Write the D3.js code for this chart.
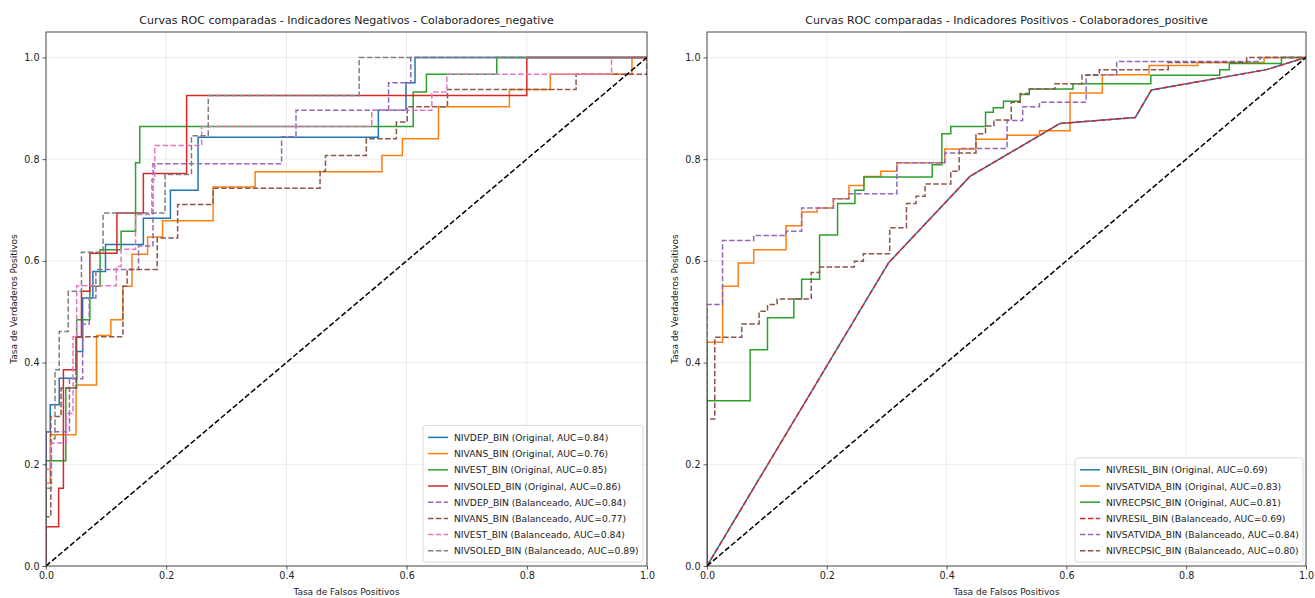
<!DOCTYPE html>
<html>
<head>
<meta charset="utf-8">
<script src="https://cdn.jsdelivr.net/npm/d3@7"></script>
<style>
  body { margin: 0; background: #fff; }
  svg { font-family: "DejaVu Sans", sans-serif; }
</style>
</head>
<body>
<svg id="chart" width="1315" height="598"></svg>
<script>
// ---- ROC points [fpr, tpr] per model ----
// Indicadores negativos
const nivdepOrig = [[0,0],[0,0.264],[0.007,0.264],[0.007,0.317],[0.022,0.317],[0.022,0.369],[0.051,0.369],[0.051,0.422],[0.061,0.422],[0.061,0.527],[0.078,0.527],[0.078,0.579],[0.099,0.579],[0.099,0.632],[0.162,0.632],[0.162,0.684],[0.207,0.684],[0.207,0.739],[0.253,0.739],[0.253,0.843],[0.553,0.843],[0.553,0.896],[0.599,0.896],[0.599,0.95],[0.614,0.95],[0.614,1],[1,1]];
const nivansOrig = [[0,0],[0,0.163],[0.007,0.163],[0.007,0.258],[0.05,0.258],[0.05,0.356],[0.084,0.356],[0.084,0.453],[0.108,0.453],[0.108,0.484],[0.128,0.484],[0.128,0.55],[0.143,0.55],[0.143,0.613],[0.169,0.613],[0.169,0.647],[0.194,0.647],[0.194,0.679],[0.278,0.679],[0.278,0.745],[0.348,0.745],[0.348,0.775],[0.559,0.775],[0.559,0.807],[0.593,0.807],[0.593,0.84],[0.653,0.84],[0.653,0.903],[0.771,0.903],[0.771,0.937],[0.839,0.937],[0.839,0.967],[0.975,0.967],[0.975,1],[1,1]];
const nivestOrig = [[0,0],[0,0.207],[0.033,0.207],[0.033,0.35],[0.051,0.35],[0.051,0.484],[0.073,0.484],[0.073,0.55],[0.09,0.55],[0.09,0.622],[0.125,0.622],[0.125,0.658],[0.149,0.658],[0.149,0.793],[0.156,0.793],[0.156,0.864],[0.611,0.864],[0.611,0.932],[0.633,0.932],[0.633,0.967],[0.75,0.967],[0.75,1],[1,1]];
const nivsoledOrig = [[0,0],[0,0.077],[0.021,0.077],[0.021,0.153],[0.029,0.153],[0.029,0.386],[0.05,0.386],[0.05,0.45],[0.059,0.45],[0.059,0.54],[0.073,0.54],[0.073,0.615],[0.118,0.615],[0.118,0.694],[0.162,0.694],[0.162,0.772],[0.234,0.772],[0.234,0.925],[0.80,0.925],[0.80,1],[1,1]];
const nivdepBal = [[0,0],[0,0.264],[0.039,0.264],[0.039,0.368],[0.061,0.368],[0.061,0.476],[0.072,0.476],[0.072,0.527],[0.083,0.527],[0.083,0.583],[0.154,0.583],[0.154,0.629],[0.178,0.629],[0.178,0.791],[0.392,0.791],[0.392,0.844],[0.416,0.844],[0.416,0.896],[0.57,0.896],[0.57,0.95],[0.607,0.95],[0.607,1],[1,1]];
const nivansBal = [[0,0],[0,0.097],[0.008,0.097],[0.008,0.294],[0.025,0.294],[0.025,0.35],[0.05,0.35],[0.05,0.451],[0.128,0.451],[0.128,0.55],[0.135,0.55],[0.135,0.583],[0.185,0.583],[0.185,0.645],[0.219,0.645],[0.219,0.711],[0.278,0.711],[0.278,0.743],[0.456,0.743],[0.456,0.776],[0.465,0.776],[0.465,0.807],[0.533,0.807],[0.533,0.84],[0.583,0.84],[0.583,0.873],[0.601,0.873],[0.601,0.903],[0.668,0.903],[0.668,0.937],[0.882,0.937],[0.882,0.967],[1,0.967],[1,1]];
const nivestBal = [[0,0],[0,0.19],[0.008,0.19],[0.008,0.242],[0.034,0.242],[0.034,0.3],[0.045,0.3],[0.045,0.451],[0.051,0.451],[0.051,0.551],[0.117,0.551],[0.117,0.589],[0.125,0.589],[0.125,0.623],[0.149,0.623],[0.149,0.691],[0.176,0.691],[0.176,0.76],[0.181,0.76],[0.181,0.827],[0.259,0.827],[0.259,0.864],[0.542,0.864],[0.542,0.896],[0.642,0.896],[0.642,0.932],[0.667,0.932],[0.667,0.967],[0.941,0.967],[0.941,1],[1,1]];
const nivsoledBal = [[0,0],[0,0.153],[0.009,0.153],[0.009,0.25],[0.015,0.25],[0.015,0.386],[0.022,0.386],[0.022,0.461],[0.037,0.461],[0.037,0.54],[0.059,0.54],[0.059,0.617],[0.095,0.617],[0.095,0.694],[0.198,0.694],[0.198,0.77],[0.242,0.77],[0.242,0.846],[0.27,0.846],[0.27,0.925],[0.521,0.925],[0.521,1],[1,1]];

// Indicadores positivos
const nivresilOrig = [[0,0],[0.303,0.596],[0.439,0.766],[0.589,0.870],[0.715,0.882],[0.742,0.936],[0.934,0.976],[1,1]];
const nivsatvidaOrig = [[0,0],[0,0.44],[0.026,0.44],[0.026,0.55],[0.052,0.55],[0.052,0.596],[0.078,0.596],[0.078,0.622],[0.132,0.622],[0.132,0.669],[0.158,0.669],[0.158,0.696],[0.184,0.696],[0.184,0.704],[0.211,0.704],[0.211,0.722],[0.237,0.722],[0.237,0.748],[0.262,0.748],[0.262,0.766],[0.29,0.766],[0.29,0.776],[0.317,0.776],[0.317,0.793],[0.397,0.793],[0.397,0.82],[0.449,0.82],[0.449,0.839],[0.501,0.839],[0.501,0.847],[0.555,0.847],[0.555,0.856],[0.606,0.856],[0.606,0.93],[0.66,0.93],[0.66,0.966],[0.738,0.966],[0.738,0.984],[0.819,0.984],[0.819,0.99],[0.93,0.99],[0.93,1],[1,1]];
const nivrecpsicOrig = [[0,0],[0,0.325],[0.072,0.325],[0.072,0.425],[0.101,0.425],[0.101,0.488],[0.145,0.488],[0.145,0.525],[0.158,0.525],[0.158,0.564],[0.188,0.564],[0.188,0.651],[0.218,0.651],[0.218,0.713],[0.247,0.713],[0.247,0.739],[0.262,0.739],[0.262,0.765],[0.376,0.765],[0.376,0.789],[0.392,0.789],[0.392,0.85],[0.407,0.85],[0.407,0.864],[0.465,0.864],[0.465,0.892],[0.478,0.892],[0.478,0.901],[0.495,0.901],[0.495,0.914],[0.523,0.914],[0.523,0.927],[0.538,0.927],[0.538,0.938],[0.611,0.938],[0.611,0.948],[0.741,0.948],[0.741,0.965],[0.856,0.965],[0.856,0.976],[0.872,0.976],[0.872,0.988],[0.959,0.988],[0.959,1],[1,1]];
const nivresilBal = [[0,0],[0.303,0.596],[0.439,0.766],[0.589,0.870],[0.715,0.882],[0.742,0.936],[0.934,0.976],[1,1]];
const nivsatvidaBal = [[0,0],[0,0.514],[0.026,0.514],[0.026,0.64],[0.078,0.64],[0.078,0.65],[0.132,0.65],[0.132,0.658],[0.158,0.658],[0.158,0.704],[0.211,0.704],[0.211,0.722],[0.237,0.722],[0.237,0.732],[0.317,0.732],[0.317,0.793],[0.397,0.793],[0.397,0.812],[0.421,0.812],[0.421,0.821],[0.501,0.821],[0.501,0.876],[0.527,0.876],[0.527,0.903],[0.555,0.903],[0.555,0.912],[0.633,0.912],[0.633,0.966],[0.684,0.966],[0.684,0.992],[0.923,0.992],[0.923,1],[1,1]];
const nivrecpsicBal = [[0,0],[0,0.289],[0.013,0.289],[0.013,0.45],[0.058,0.45],[0.058,0.476],[0.087,0.476],[0.087,0.501],[0.101,0.501],[0.101,0.514],[0.117,0.514],[0.117,0.525],[0.174,0.525],[0.174,0.577],[0.188,0.577],[0.188,0.588],[0.246,0.588],[0.246,0.599],[0.261,0.599],[0.261,0.614],[0.305,0.614],[0.305,0.665],[0.333,0.665],[0.333,0.713],[0.349,0.713],[0.349,0.727],[0.364,0.727],[0.364,0.751],[0.407,0.751],[0.407,0.776],[0.421,0.776],[0.421,0.812],[0.449,0.812],[0.449,0.85],[0.465,0.85],[0.465,0.865],[0.479,0.865],[0.479,0.877],[0.508,0.877],[0.508,0.912],[0.523,0.912],[0.523,0.929],[0.538,0.929],[0.538,0.938],[0.581,0.938],[0.581,0.948],[0.626,0.948],[0.626,0.965],[0.655,0.965],[0.655,0.976],[0.77,0.976],[0.77,0.99],[0.901,0.99],[0.901,1],[1,1]];

const negNames = ["NIVDEP_BIN", "NIVANS_BIN", "NIVEST_BIN", "NIVSOLED_BIN"];
const negAucOrig = [0.84, 0.76, 0.85, 0.86];
const negAucBal = [0.84, 0.77, 0.84, 0.89];
const posNames = ["NIVRESIL_BIN", "NIVSATVIDA_BIN", "NIVRECPSIC_BIN"];
const posAucOrig = [0.69, 0.83, 0.81];
const posAucBal = [0.69, 0.84, 0.80];

const tickValues = [0, 0.2, 0.4, 0.6, 0.8, 1.0];
const palette = ["#1f77b4", "#ff7f0e", "#2ca02c", "#d62728", "#9467bd", "#8c564b", "#e377c2", "#7f7f7f"];

const svg = d3.select("#chart");

function drawPanel(cfg) {
  const x = d3.scaleLinear().domain([0, 1]).range([cfg.left, cfg.right]);
  const y = d3.scaleLinear().domain([0, 1.05]).range([cfg.bottom, cfg.top]);
  const g = svg.append("g");

  // grid
  g.append("g").selectAll("line.gx").data(tickValues).join("line")
    .attr("x1", d => x(d)).attr("x2", d => x(d))
    .attr("y1", cfg.top).attr("y2", cfg.bottom)
    .attr("stroke", "#b0b0b0").attr("stroke-opacity", 0.3).attr("stroke-width", 0.8);
  g.append("g").selectAll("line.gy").data(tickValues).join("line")
    .attr("y1", d => y(d)).attr("y2", d => y(d))
    .attr("x1", cfg.left).attr("x2", cfg.right)
    .attr("stroke", "#b0b0b0").attr("stroke-opacity", 0.3).attr("stroke-width", 0.8);

  const line = d3.line().x(d => x(d[0])).y(d => y(d[1]));

  const clip = "clip" + cfg.id;
  svg.append("clipPath").attr("id", clip).append("rect")
    .attr("x", cfg.left).attr("y", cfg.top)
    .attr("width", cfg.right - cfg.left).attr("height", cfg.bottom - cfg.top);
  const plot = g.append("g").attr("clip-path", `url(#${clip})`);

  cfg.series.forEach(s => {
    plot.append("path").datum(s.data)
      .attr("d", line)
      .attr("fill", "none")
      .attr("stroke", s.color)
      .attr("stroke-width", 1.5)
      .attr("stroke-dasharray", s.dashed ? "5.5,2.4" : null);
  });

  // chance line
  plot.append("path").datum([[0, 0], [1, 1]])
    .attr("d", line).attr("fill", "none")
    .attr("stroke", "#000").attr("stroke-width", 1.5)
    .attr("stroke-dasharray", "5.5,2.4");

  // axes
  const xAxis = d3.axisBottom(x).tickValues(tickValues).tickFormat(d3.format(".1f")).tickSize(3.5).tickPadding(3);
  const yAxis = d3.axisLeft(y).tickValues(tickValues).tickFormat(d3.format(".1f")).tickSize(3.5).tickPadding(3);
  const gx = g.append("g").attr("transform", `translate(0,${cfg.bottom})`).call(xAxis);
  const gy = g.append("g").attr("transform", `translate(${cfg.left},0)`).call(yAxis);
  [gx, gy].forEach(a => {
    a.select(".domain").remove();
    a.selectAll("text").attr("font-size", 9.6).attr("fill", "#222").attr("font-family", "DejaVu Sans");
    a.selectAll("line").attr("stroke", "#333").attr("stroke-width", 0.8);
  });

  // frame
  g.append("rect").attr("x", cfg.left).attr("y", cfg.top)
    .attr("width", cfg.right - cfg.left).attr("height", cfg.bottom - cfg.top)
    .attr("fill", "none").attr("stroke", "#222").attr("stroke-width", 0.8);

  // titles
  g.append("text").attr("x", (cfg.left + cfg.right) / 2).attr("y", 24)
    .attr("text-anchor", "middle").attr("font-size", 11).attr("fill", "#222")
    .text(cfg.title);
  g.append("text").attr("x", (cfg.left + cfg.right) / 2).attr("y", 595)
    .attr("text-anchor", "middle").attr("font-size", 9).attr("fill", "#222")
    .text("Tasa de Falsos Positivos");
  g.append("text")
    .attr("transform", `translate(${cfg.left - 29},${(cfg.top + cfg.bottom) / 2}) rotate(-90)`)
    .attr("text-anchor", "middle").attr("font-size", 9).attr("fill", "#222")
    .text("Tasa de Verdaderos Positivos");

  // legend
  const lg = g.append("g");
  const rowH = 16.2;
  lg.append("rect")
    .attr("x", cfg.legendX).attr("y", cfg.bottom - 5 - cfg.series.length * rowH - 6)
    .attr("width", cfg.legendW).attr("height", cfg.series.length * rowH + 7)
    .attr("rx", 2.5).attr("fill", "#fff").attr("fill-opacity", 0.8)
    .attr("stroke", "#d0d0d0").attr("stroke-width", 0.8);
  const y0 = cfg.bottom - 5 - cfg.series.length * rowH + 4;
  cfg.series.forEach((s, i) => {
    const yy = y0 + i * rowH + 2;
    lg.append("line").attr("x1", cfg.legendX + 5).attr("x2", cfg.legendX + 25)
      .attr("y1", yy).attr("y2", yy)
      .attr("stroke", s.color).attr("stroke-width", 1.5)
      .attr("stroke-dasharray", s.dashed ? "5.5,2.4" : null);
    lg.append("text").attr("x", cfg.legendX + 31).attr("y", yy + 3.5)
      .attr("font-size", 9.2).attr("fill", "#222").text(s.label);
  });
}

const negOrigData = [nivdepOrig, nivansOrig, nivestOrig, nivsoledOrig];
const negBalData = [nivdepBal, nivansBal, nivestBal, nivsoledBal];
const negSeries = [];
negNames.forEach((n, i) => negSeries.push({ data: negOrigData[i], color: palette[i], dashed: false, label: `${n} (Original, AUC=${negAucOrig[i].toFixed(2)})` }));
negNames.forEach((n, i) => negSeries.push({ data: negBalData[i], color: palette[4 + i], dashed: true, label: `${n} (Balanceado, AUC=${negAucBal[i].toFixed(2)})` }));

const posOrigData = [nivresilOrig, nivsatvidaOrig, nivrecpsicOrig];
const posBalData = [nivresilBal, nivsatvidaBal, nivrecpsicBal];
const posSeries = [];
posNames.forEach((n, i) => posSeries.push({ data: posOrigData[i], color: palette[i], dashed: false, label: `${n} (Original, AUC=${posAucOrig[i].toFixed(2)})` }));
posNames.forEach((n, i) => posSeries.push({ data: posBalData[i], color: palette[3 + i], dashed: true, label: `${n} (Balanceado, AUC=${posAucBal[i].toFixed(2)})` }));

drawPanel({ id: "neg", left: 46, right: 647, top: 32, bottom: 566, series: negSeries,
  title: "Curvas ROC comparadas - Indicadores Negativos - Colaboradores_negative",
  legendX: 423, legendW: 220 });
drawPanel({ id: "pos", left: 707, right: 1306, top: 32, bottom: 566, series: posSeries,
  title: "Curvas ROC comparadas - Indicadores Positivos - Colaboradores_positive",
  legendX: 1075, legendW: 228 });
</script>
</body>
</html>
